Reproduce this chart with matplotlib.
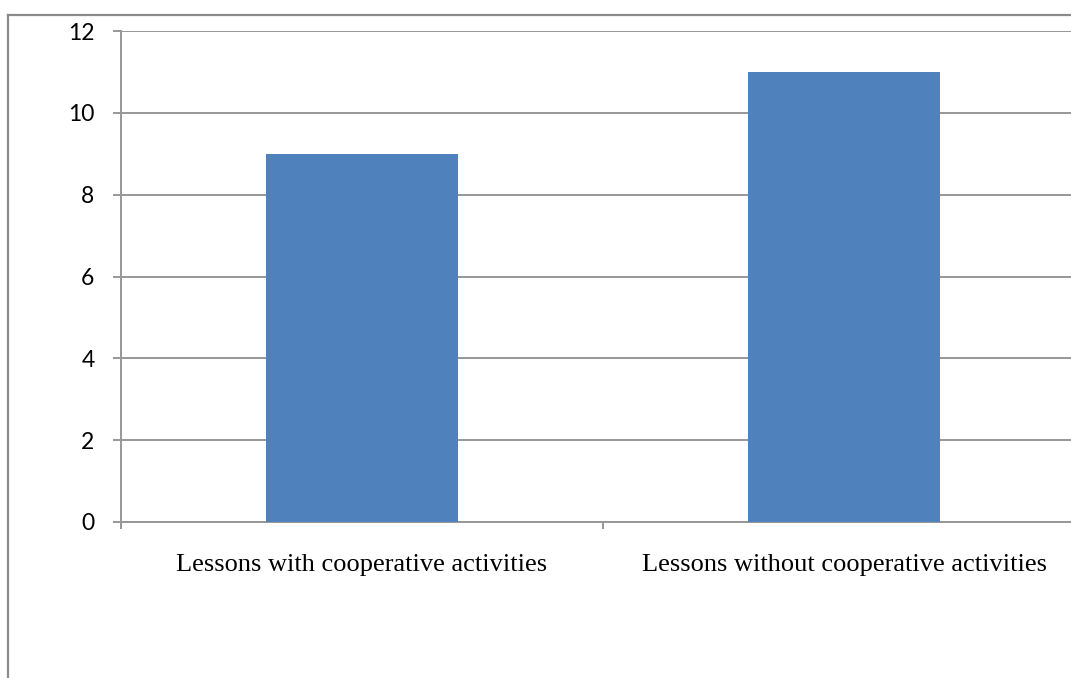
import matplotlib
matplotlib.use("Agg")
import matplotlib.pyplot as plt
from matplotlib.lines import Line2D
from matplotlib.ticker import FixedLocator

categories = ["Lessons with cooperative activities", "Lessons without cooperative activities"]
values = [9, 11]
yticks = [0, 2, 4, 6, 8, 10, 12]

W, H = 1071, 678
fig = plt.figure(figsize=(W / 100, H / 100), dpi=100)
grey = "#979797"

ax = fig.add_axes([121 / W, (H - 522) / H, 964 / W, 491 / H])
x = list(range(len(categories)))
ax.bar(x, values, width=0.4, color="#4F81BD", zorder=3)
ax.set_xlim(-0.5, len(categories) - 0.5)
ax.set_ylim(0, 12)
ax.set_yticks(yticks)
ax.set_yticklabels([str(v) for v in yticks], fontfamily="Lato", fontsize=16.5)
ax.yaxis.grid(True, color=grey, linewidth=1.4, zorder=0)
ax.tick_params(axis="y", length=6, width=1.4, color=grey, pad=13, direction="out")

ax.xaxis.set_major_locator(FixedLocator([i - 0.5 for i in range(len(categories) + 1)]))
ax.xaxis.set_minor_locator(FixedLocator(x))
ax.set_xticklabels([], minor=False)
ax.set_xticklabels(categories, minor=True, fontfamily="Liberation Serif", fontsize=19)
ax.tick_params(axis="x", which="major", length=5, width=1.4, color=grey, direction="out")
ax.tick_params(axis="x", which="minor", length=0, pad=23)

for s in ["top", "right"]:
    ax.spines[s].set_visible(False)
for s in ["left", "bottom"]:
    ax.spines[s].set_color(grey)
    ax.spines[s].set_linewidth(1.4)

bx, by = 7.5 / W, 1 - 15 / H
fig.add_artist(Line2D([bx, bx], [0, by], transform=fig.transFigure, color="#8a8a8a", linewidth=1.6))
fig.add_artist(Line2D([bx, 1], [by, by], transform=fig.transFigure, color="#8a8a8a", linewidth=1.6))

fig.savefig("out.png", dpi=100)
